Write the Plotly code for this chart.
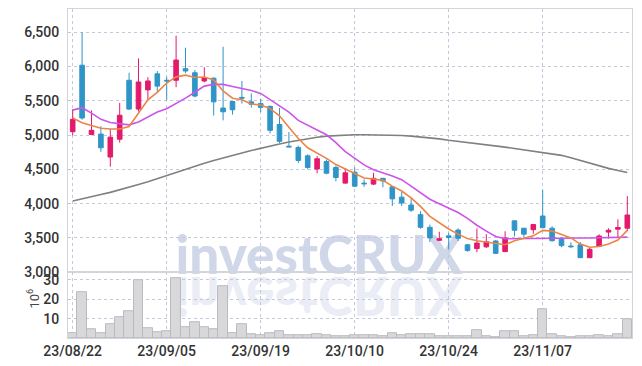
import plotly.graph_objects as go

dates = ["23/08/22","23/08/23","23/08/24","23/08/25","23/08/28","23/08/29","23/08/30","23/08/31",
         "23/09/01","23/09/04","23/09/05","23/09/06","23/09/07","23/09/08","23/09/11","23/09/12",
         "23/09/13","23/09/14","23/09/15","23/09/18","23/09/19","23/09/20","23/09/21","23/09/22",
         "23/09/25","23/09/26","23/09/27","23/10/04","23/10/05","23/10/06","23/10/10","23/10/11",
         "23/10/12","23/10/13","23/10/16","23/10/17","23/10/18","23/10/19","23/10/20","23/10/23",
         "23/10/24","23/10/25","23/10/26","23/10/27","23/10/30","23/10/31","23/11/01","23/11/02",
         "23/11/03","23/11/06","23/11/07","23/11/08","23/11/09","23/11/10","23/11/13","23/11/14",
         "23/11/15","23/11/16","23/11/17","23/11/20"]

opens = [5050,6020,5010,5015,4680,4940,5800,5380,5660,5895,
         5800,5800,5970,5910,5790,5830,5395,5490,5550,5485,
         5460,5420,5155,4838,4820,4698,4505,4615,4528,4300,
         4460,4300,4285,4370,4245,4095,3980,3840,3655,3465,
         3530,3615,3400,3345,3370,3455,3300,3750,3642,3620,
         3820,3642,3492,3382,3400,3212,3375,3585,3628,3642]
highs = [5380,6500,5360,5130,5090,5470,5910,6120,5845,5935,
         5850,6450,6275,5950,5990,5845,6290,5495,5790,5610,
         5530,5430,5395,5045,4845,4720,4695,4645,4558,4520,
         4530,4355,4450,4375,4255,4170,4085,3890,3695,3590,
         3575,3640,3410,3640,3555,3470,3597,3752,3645,3705,
         4200,3670,3510,3436,3440,3368,3553,3640,3772,4110]
lows = [4995,5225,5000,4755,4540,4890,5365,5345,5525,5615,
        5510,5700,5905,5550,5770,5285,5215,5300,5460,5400,
        5335,5025,4885,4825,4592,4502,4442,4428,4325,4290,
        4240,4245,4270,4240,3965,3965,3880,3635,3440,3460,
        3335,3455,3300,3290,3355,3265,3295,3523,3505,3560,
        3640,3445,3365,3356,3210,3205,3370,3490,3500,3600]
closes = [5230,5250,5070,4815,4970,5290,5380,5775,5790,5715,
          5790,6095,5935,5570,5838,5485,5340,5370,5540,5450,
          5405,5070,4910,4828,4630,4528,4655,4445,4382,4450,
          4255,4290,4370,4330,4070,4010,3905,3655,3500,3488,
          3505,3495,3315,3425,3445,3275,3500,3612,3555,3695,
          3650,3460,3388,3372,3212,3335,3528,3612,3652,3835]

ma_short = [5250,5180,5140,5100,5090,5090,5125,5325,5515,5625,
            5760,5850,5875,5840,5848,5805,5645,5538,5515,5455,
            5440,5387,5282,5115,4950,4815,4738,4660,4570,4505,
            4440,4375,4360,4340,4256,4185,4085,3960,3815,3720,
            3630,3555,3490,3460,3440,3415,3400,3460,3490,3530,
            3610,3600,3550,3500,3410,3365,3375,3410,3470,3610]
ma_mid = [5365,5400,5320,5230,5185,5168,5150,5192,5270,5338,
          5385,5460,5540,5625,5715,5740,5740,5710,5680,5650,
          5608,5514,5420,5335,5215,5140,5075,5005,4890,4760,
          4660,4565,4495,4455,4405,4350,4256,4170,4065,4000,
          3935,3870,3785,3685,3600,3520,3488,3488,3490,3495,
          3497,3497,3497,3498,3498,3500,3502,3505,3508,3512]
ma_long = [4040,4075,4105,4135,4165,4200,4240,4280,4320,4365,
           4420,4455,4500,4545,4590,4630,4670,4705,4740,4775,
           4810,4845,4870,4900,4925,4950,4970,4985,4995,5000,
           5005,5005,5005,5003,5000,4995,4985,4975,4962,4945,
           4925,4910,4895,4875,4860,4845,4825,4805,4785,4765,
           4750,4735,4705,4670,4630,4590,4555,4515,4485,4455]

volume_m = [2.6,23.9,4.7,2.6,7.3,10.9,14.0,30.1,5.2,3.1,
            3.6,30.7,5.7,8.3,5.6,4.7,26.7,2.6,7.3,2.1,
            1.7,2.6,3.6,1.7,1.7,1.7,2.1,1.2,1.0,0.7,
            1.2,1.2,1.2,0.7,2.6,1.7,2.1,2.1,2.1,1.0,
            1.0,1.0,1.0,4.2,1.0,0.5,3.5,3.5,1.0,1.7,
            15.1,2.1,1.0,0.5,1.0,1.0,1.6,1.0,2.1,9.9]

price_ticks = [3000, 3500, 4000, 4500, 5000, 5500, 6000, 6500]
vol_ticks = [10, 20, 30]
x_tick_labels = ["23/08/22", "23/09/05", "23/09/19", "23/10/10", "23/10/24", "23/11/07"]

RED = "#e31a6b"
BLUE = "#2f95c8"
GRID = "rgb(196,200,220)"
AXLINE = "rgb(212,212,220)"
TICKFONT = dict(family="Roboto, sans-serif", size=14, color="#333333", weight=500)

fig = go.Figure()
fig.add_trace(go.Bar(
    x=dates, y=volume_m, xaxis="x", yaxis="y2",
    marker=dict(color="rgb(216,216,218)", line=dict(color="rgb(186,186,192)", width=1)),
    hoverinfo="skip", showlegend=False))
fig.add_trace(go.Candlestick(
    x=dates, open=opens, high=highs, low=lows, close=closes,
    xaxis="x", yaxis="y",
    increasing=dict(line=dict(color=RED, width=1), fillcolor=RED),
    decreasing=dict(line=dict(color=BLUE, width=1), fillcolor=BLUE),
    whiskerwidth=0, showlegend=False))
fig.add_trace(go.Scatter(x=dates, y=ma_long, mode="lines", xaxis="x", yaxis="y",
                         line=dict(color="rgb(128,128,128)", width=1.6), showlegend=False))
fig.add_trace(go.Scatter(x=dates, y=ma_mid, mode="lines", xaxis="x", yaxis="y",
                         line=dict(color="rgb(204,84,232)", width=1.6), showlegend=False))
fig.add_trace(go.Scatter(x=dates, y=ma_short, mode="lines", xaxis="x", yaxis="y",
                         line=dict(color="rgb(236,132,72)", width=1.6), showlegend=False))

wm_font = dict(family="Lato, Open Sans, sans-serif", size=53, color="rgba(178,190,220,0.62)", weight=900)
wm_font2 = dict(family="Lato, Open Sans, sans-serif", size=53, color="rgba(190,198,224,0.32)", weight=900)

fig.update_layout(
    width=642, height=366,
    margin=dict(l=68, r=10, t=9, b=28, autoexpand=False),
    paper_bgcolor="white", plot_bgcolor="white",
    bargap=0, boxgap=0.3,
    hovermode=False,
    xaxis=dict(type="category", anchor="y2", domain=[0, 1], range=[-0.5, len(dates) - 0.5],
               tickmode="array", tickvals=x_tick_labels, ticktext=x_tick_labels,
               showgrid=True, gridcolor=GRID, griddash="dot", gridwidth=1,
               showline=True, linecolor=AXLINE, linewidth=1, mirror="all", automargin=False,
               ticks="", tickfont=TICKFONT, rangeslider=dict(visible=False), fixedrange=True),
    yaxis=dict(domain=[0.2, 1], anchor="x", range=[3000, 6840],
               tickmode="array", tickvals=price_ticks, tickformat=",",
               showgrid=True, gridcolor=GRID, griddash="dot", gridwidth=1,
               showline=True, linecolor=AXLINE, linewidth=1, mirror=True, automargin=False,
               ticks="", ticklabelstandoff=5, tickfont=TICKFONT, zeroline=False, fixedrange=True),
    yaxis2=dict(domain=[0, 0.2], anchor="x", range=[0, 34],
                tickmode="array", tickvals=vol_ticks,
                showgrid=True, gridcolor=GRID, griddash="dot", gridwidth=1,
                showline=True, linecolor=AXLINE, linewidth=1, mirror=True, automargin=False,
                ticks="", ticklabelstandoff=5, tickfont=TICKFONT, zeroline=False, fixedrange=True),
    shapes=[
        dict(type="rect", xref="paper", yref="paper", x0=0.17, x1=0.72, y0=0.19, y1=0.33,
             line=dict(width=0), fillcolor="rgba(0,0,0,0)", layer="below",
             label=dict(text="investCRUX", font=wm_font, textposition="middle center", padding=0)),
        dict(type="rect", xref="paper", yref="paper", x0=0.17, x1=0.72, y0=0.055, y1=0.195,
             line=dict(width=0), fillcolor="rgba(0,0,0,0)", layer="below",
             label=dict(text="investCRUX", font=wm_font2, textposition="middle center", padding=0)),
    ],
    annotations=[
        dict(text="10<sup>6</sup>", xref="paper", yref="paper", x=-0.062, y=0.12,
             textangle=-90, showarrow=False, xanchor="center", yanchor="middle",
             font=dict(family="Roboto, sans-serif", size=13, color="#444444")),
    ],
)

post = """
document.documentElement.style.margin = '0';
document.documentElement.style.padding = '0';
document.body.style.margin = '0';
document.body.style.padding = '0';
document.body.style.overflow = 'hidden';
var gd = document.getElementById('{plot_id}');
function flipWM(){
  var ts = gd.querySelectorAll('text');
  var found = [];
  ts.forEach(function(t){ if (t.textContent === 'investCRUX') found.push(t); });
  if (found.length > 1) {
    var t = found[1];
    t.style.transformBox = 'fill-box';
    t.style.transformOrigin = '50% 50%';
    t.style.transform = 'scaleY(-1)';
  }
}
flipWM();
if (gd && gd.on) { gd.on('plotly_afterplot', flipWM); }
"""

fig.write_html("out.html", post_script=post, config={"displayModeBar": False})
